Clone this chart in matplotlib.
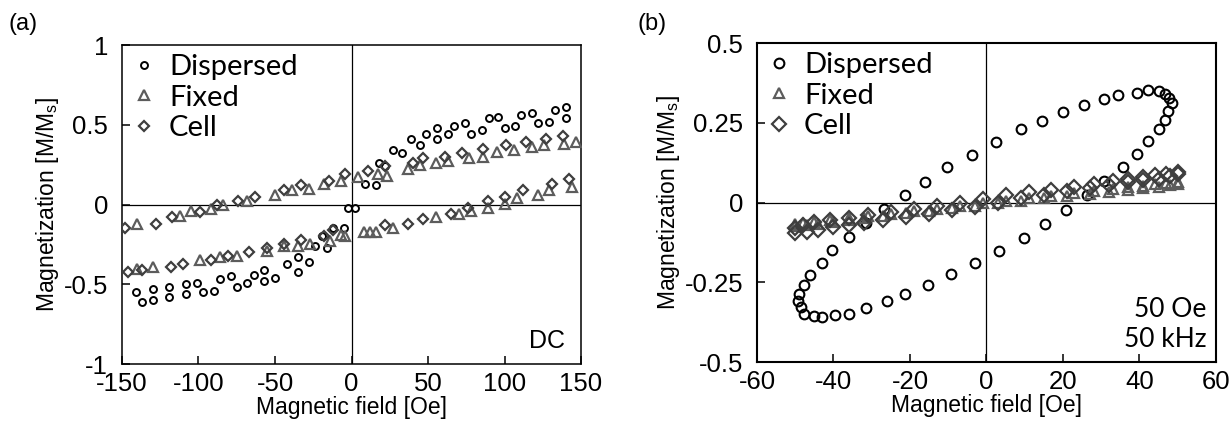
""" Magnetization curves: DC (a) and AC 50 Oe / 50 kHz (b) """
import numpy as np
import matplotlib
matplotlib.use('Agg')
import matplotlib.pyplot as plt

# ---- panel (a): DC ----
disp_a_x = [9, 16, 18, 22, 27, 33, 39, 45, 49, 56, 56, 63, 67, 74, 78, 85, 90, 96, 100, 107, 111, 118, 122, 129, 133, 140, 140,
            -2, 2.6,
            -141, -137, -130, -130, -119, -119, -108, -108, -101, -97, -90, -86, -79, -75, -68, -64, -57, -57, -50,
            -42, -35, -35, -28, -24, -16, -19, -12, -5]
disp_a_y = [0.13, 0.125, 0.26, 0.24, 0.34, 0.32, 0.41, 0.37, 0.44, 0.41, 0.48, 0.44, 0.49, 0.51, 0.44, 0.47, 0.54, 0.55, 0.48, 0.49, 0.56, 0.575, 0.51, 0.52, 0.59, 0.61, 0.54,
            -0.02, -0.02,
            -0.55, -0.61, -0.53, -0.60, -0.52, -0.58, -0.50, -0.56, -0.49, -0.55, -0.54, -0.47, -0.45, -0.52, -0.49, -0.44, -0.48, -0.41, -0.46,
            -0.375, -0.33, -0.42, -0.36, -0.26, -0.275, -0.20, -0.15, -0.15]

fixed_a_x = [-140, -112, -105, -92, -84, -68, -50, -39, -28, -18, -7,
             4, 17, 23, 37, 45, 55, 63, 77, 86, 95, 106, 118, 126, 139, 147,
             8, 12, 16, 27, 55, 70, 78, 89, 100, 108, 122, 129, 144,
             -140, -130, -99, -86, -75, -55, -44, -35, -27, -14, -7, -4]
fixed_a_y = [-0.125, -0.07, -0.04, -0.03, -0.005, 0.025, 0.06, 0.09, 0.10, 0.13, 0.15,
             0.17, 0.19, 0.18, 0.22, 0.25, 0.26, 0.27, 0.29, 0.30, 0.33, 0.34, 0.36, 0.37, 0.38, 0.39,
             -0.175, -0.17, -0.175, -0.145, -0.08, -0.06, -0.04, -0.02, 0.006, 0.04, 0.06, 0.09, 0.11,
             -0.405, -0.39, -0.35, -0.33, -0.32, -0.29, -0.26, -0.26, -0.25, -0.23, -0.19, -0.20]

cell_a_x = [-148, -128, -117, -99, -88, -74, -63, -44, -33, -15, -4,
            11, 22, 40, 47, 61, 72, 86, 101, 114, 127, 138,
            22, 37, 47, 65, 76, 89, 100, 112, 131, 142,
            -146, -137, -118, -110, -92, -81, -67, -55, -44, -33, -18, -12]
cell_a_y = [-0.15, -0.12, -0.08, -0.05, -0.005, 0.025, 0.05, 0.09, 0.12, 0.15, 0.19,
            0.21, 0.24, 0.26, 0.29, 0.30, 0.32, 0.35, 0.375, 0.39, 0.41, 0.43,
            -0.13, -0.12, -0.09, -0.06, -0.02, 0.02, 0.05, 0.09, 0.13, 0.16,
            -0.425, -0.41, -0.39, -0.375, -0.35, -0.32, -0.30, -0.27, -0.245, -0.225, -0.20, -0.16]

# ---- panel (b): 50 Oe, 50 kHz ----
disp_b_x = [2.6, 8.9, 14.4, 19.9, 25.4, 30.8, 34.5, 39.4, 42.1, 45.0, 46.8, 47.8, 48.6, 47.5, 46.8, 45.0, 42.1,
            39.4, 35.6, 30.6, 26.4, 20.9, 15.4, 9.9, 3.4, -3.1, -9.2, -15.2, -21.4, -25.9, -31.4, -36.0, -39.7,
            -43.1, -45.2, -47.8, -48.6, -49.2, -48.9, -47.8, -46.0, -43.1, -40.5, -36.0, -31.4, -26.9, -21.4,
            -16.0, -10.2, -3.7]
disp_b_y = [0.190, 0.230, 0.256, 0.284, 0.306, 0.325, 0.338, 0.344, 0.353, 0.350, 0.340, 0.328, 0.313, 0.288, 0.260,
            0.230, 0.194, 0.153, 0.110, 0.069, 0.022, -0.022, -0.066, -0.110, -0.153, -0.190, -0.225, -0.260, -0.287,
            -0.310, -0.330, -0.348, -0.353, -0.358, -0.357, -0.348, -0.328, -0.310, -0.288, -0.260, -0.228, -0.190,
            -0.150, -0.108, -0.065, -0.020, 0.025, 0.065, 0.110, 0.150]

loop_b_x = [-50, -47, -44, -40, -36, -32, -27, -21, -15, -9, -3, 3, 9, 15, 21, 27, 32, 37, 41, 45, 48, 50,
            50, 47, 44, 41, 37, 33, 28, 23, 17, 11, 5, -1, -7, -13, -19, -25, -31, -36, -41, -45, -48, -50]
fixed_b_y = [-0.075, -0.072, -0.066, -0.060, -0.054, -0.048, -0.041, -0.034, -0.026, -0.018, -0.010, -0.002,
             0.006, 0.013, 0.020, 0.027, 0.034, 0.040, 0.045, 0.050, 0.054, 0.057,
             0.064, 0.061, 0.057, 0.053, 0.048, 0.043, 0.036, 0.029, 0.021, 0.013, 0.005, -0.003, -0.011,
             -0.019, -0.027, -0.035, -0.042, -0.048, -0.055, -0.060, -0.064, -0.068]
cell_b_y = [-0.095, -0.094, -0.085, -0.078, -0.070, -0.065, -0.055, -0.046, -0.035, -0.024, -0.015, 0.000,
            0.015, 0.025, 0.035, 0.045, 0.055, 0.065, 0.070, 0.075, 0.082, 0.088,
            0.095, 0.090, 0.085, 0.080, 0.075, 0.066, 0.058, 0.050, 0.040, 0.032, 0.022, 0.010, 0.000,
            -0.010, -0.020, -0.030, -0.040, -0.047, -0.055, -0.062, -0.070, -0.080]

c_fixed = '#5c5c5c'
c_cell = '#3e3e3e'
tick_font = 'Liberation Sans'
leg_font = 'Lato'

plt.rcParams['font.family'] = tick_font
fig = plt.figure(figsize=(12.31, 4.25), dpi=100)
ax_a = fig.add_axes([0.0991, 0.1435, 0.3729, 0.7506])
ax_b = fig.add_axes([0.6149, 0.1482, 0.3729, 0.7506])

ax_a.plot(disp_a_x, disp_a_y, 'o', ms=5, mfc='none', mec='black', mew=1.4, label='Dispersed', zorder=3)
ax_a.plot(fixed_a_x, fixed_a_y, '^', ms=6.5, mfc='none', mec=c_fixed, mew=1.6, label='Fixed', zorder=3)
ax_a.plot(cell_a_x, cell_a_y, 'D', ms=5.5, mfc='none', mec=c_cell, mew=1.6, label='Cell', zorder=3)

ax_b.plot(disp_b_x, disp_b_y, 'o', ms=7, mfc='none', mec='black', mew=1.5, label='Dispersed', zorder=3)
ax_b.plot(loop_b_x, fixed_b_y, '^', ms=7, mfc='none', mec=c_fixed, mew=1.6, label='Fixed', zorder=3)
ax_b.plot(loop_b_x, cell_b_y, 'D', ms=7, mfc='none', mec=c_cell, mew=1.6, label='Cell', zorder=3)

ax_a.set_xlim(-150, 150)
ax_a.set_ylim(-1, 1)
ax_a.set_xticks(np.arange(-150, 151, 50))
ax_a.set_yticks([-1, -0.5, 0, 0.5, 1])
ax_a.set_yticklabels(['-1', '-0.5', '0', '0.5', '1'])
ax_a.set_xticklabels(['-150', '-100', '-50', '0', '50', '100', '150'])

ax_b.set_xlim(-60, 60)
ax_b.set_ylim(-0.5, 0.5)
ax_b.set_xticks(np.arange(-60, 61, 20))
ax_b.set_xticklabels(['-60', '-40', '-20', '0', '20', '40', '60'])
ax_b.set_yticks([-0.5, -0.25, 0, 0.25, 0.5])
ax_b.set_yticklabels(['-0.5', '-0.25', '0', '0.25', '0.5'])

for ax, lw in [(ax_a, 1.1), (ax_b, 1.5)]:
  ax.axhline(0, color='black', lw=0.9, zorder=1)
  ax.axvline(0, color='black', lw=0.9, zorder=1)
  for sp in ax.spines.values():
    sp.set_linewidth(lw)
  ax.tick_params(direction='in', length=6, width=1.1, labelsize=18.5, top=False, right=False, color='black')
  ax.tick_params(axis='y', pad=10)
  ax.tick_params(axis='x', pad=6)
  ax.set_xlabel('Magnetic field [Oe]', fontsize=16.5, labelpad=0)
  ax.set_ylabel('Magnetization [M/M$_\\mathregular{s}$]', fontsize=16.5, labelpad=2)
  leg = ax.legend(loc='upper left', bbox_to_anchor=(0.02, 0.98), frameon=False, handlelength=0.7,
                  handletextpad=0.5, labelspacing=0.15, borderpad=0.1, borderaxespad=0,
                  prop={'family': leg_font, 'size': 21})

ax_a.text(0.965, 0.035, 'DC', transform=ax_a.transAxes, ha='right', va='bottom', fontsize=18)
ax_b.text(0.98, 0.03, '50 Oe\n50 kHz', transform=ax_b.transAxes, ha='right', va='bottom', fontsize=19,
          family=leg_font, linespacing=1.25)

fig.text(0.007, 0.93, '(a)', fontsize=17)
fig.text(0.518, 0.93, '(b)', fontsize=17)

fig.savefig('out.png', dpi=100)
